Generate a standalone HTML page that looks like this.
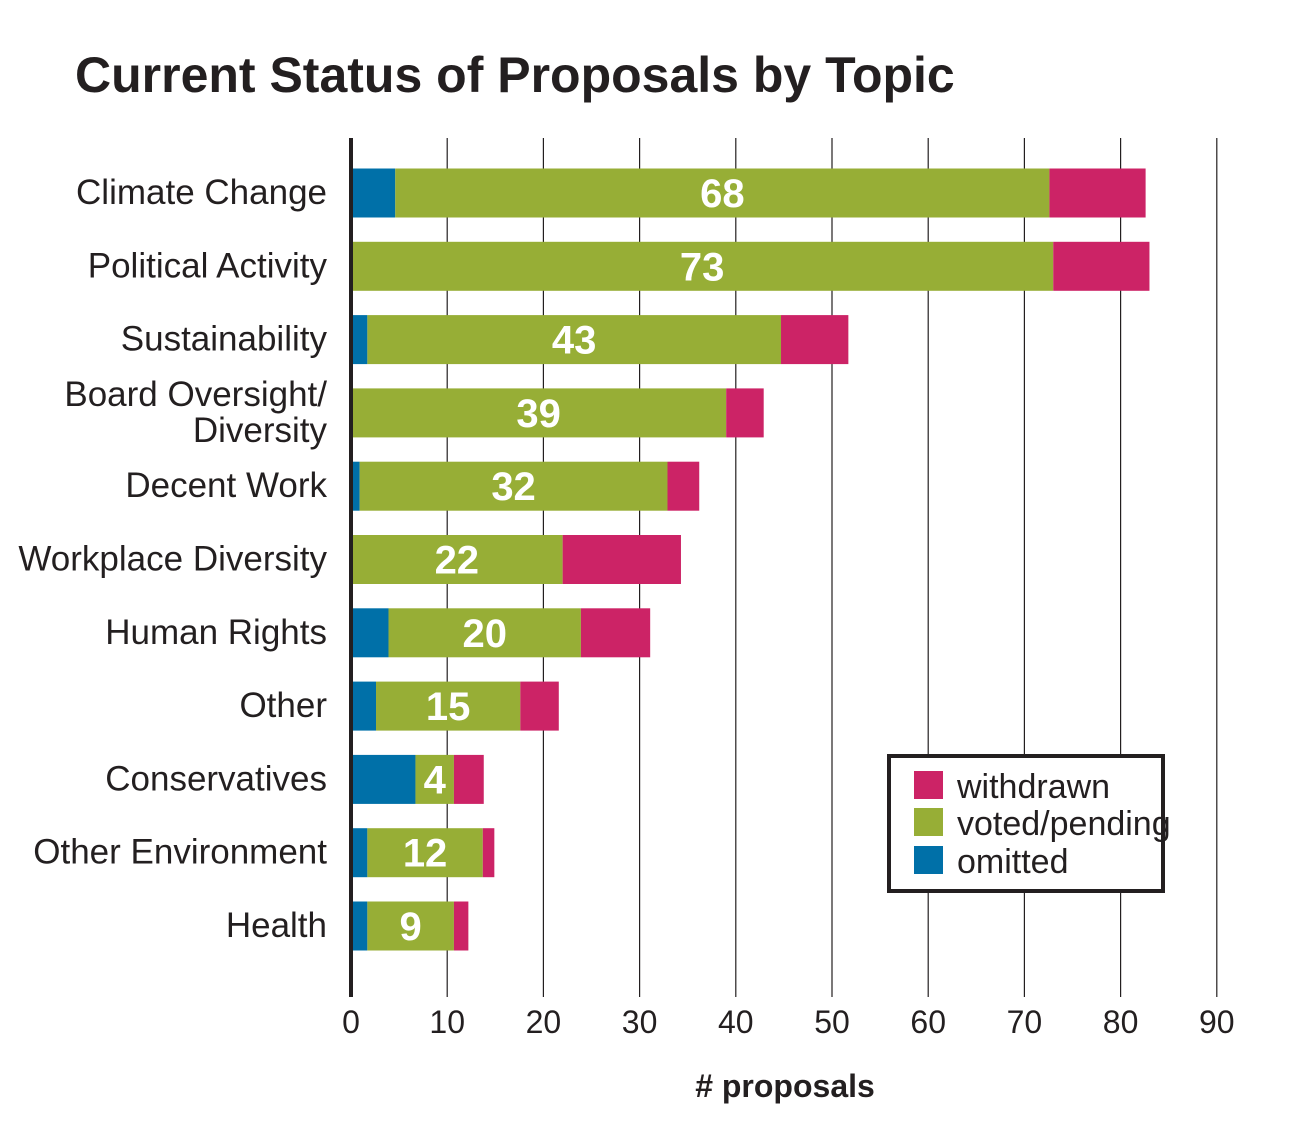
<!DOCTYPE html>
<html><head><meta charset="utf-8"><style>
body{margin:0;background:#fff;}
svg{display:block;font-family:"Liberation Sans Narrow","Liberation Sans",sans-serif;}
</style></head><body>
<svg id="chart" width="1310" height="1142" viewBox="0 0 1310 1142">
<text x="75" y="92" font-family="Liberation Sans, sans-serif" font-weight="bold" font-size="50" fill="#231f20">Current Status of Proposals by Topic</text>
<g id="grid"></g><g id="bars"></g><g id="labels"></g>
<line x1="351" y1="138" x2="351" y2="997" stroke="#231f20" stroke-width="4"/>
<text x="785" y="1097" text-anchor="middle" font-weight="bold" font-size="32" fill="#231f20">#  proposals</text>
<g>
<rect x="889" y="756" width="274" height="135" fill="#fff" stroke="#231f20" stroke-width="4"/>
<rect x="914" y="771" width="29" height="28" fill="#cc2366"/>
<text x="957" y="798" font-size="34" fill="#231f20">withdrawn</text>
<rect x="914" y="808" width="29" height="28" fill="#97ae36"/>
<text x="957" y="835" font-size="34" fill="#231f20">voted/pending</text>
<rect x="914" y="846" width="29" height="28" fill="#0070a8"/>
<text x="957" y="873" font-size="34" fill="#231f20">omitted</text>
</g>
</svg>
<script>
const categories=["Climate Change","Political Activity","Sustainability","Board Oversight/|Diversity","Decent Work","Workplace Diversity","Human Rights","Other","Conservatives","Other Environment","Health"];
const omitted=[4.6,0,1.7,0,0.9,0,3.9,2.6,6.7,1.7,1.7];
const voted=[68,73,43,39,32,22,20,15,4,12,9];
const withdrawn=[10,10,7,3.9,3.3,12.3,7.2,4,3.1,1.2,1.5];
const ticks=[0,10,20,30,40,50,60,70,80,90];
const NS="http://www.w3.org/2000/svg";
const x=v=>351+v*9.62;
const yc=i=>193+i*73.3;
const bh=49;
function mk(tag,attrs,parent){const e=document.createElementNS(NS,tag);for(const k in attrs)e.setAttribute(k,attrs[k]);parent.appendChild(e);return e;}
const grid=document.getElementById('grid'),bars=document.getElementById('bars'),labels=document.getElementById('labels');
ticks.forEach(t=>{
 if(t>0){const l=mk('line',{x1:x(t),x2:x(t),y1:138,y2:997,stroke:'#231f20','stroke-width':1.2},grid);
 
 }
 const tx=mk('text',{x:x(t),y:1033,'text-anchor':'middle','font-size':32,fill:'#231f20'},grid);
 tx.textContent=t;
 
 
});
categories.forEach((c,i)=>{
 const y0=yc(i)-bh/2;
 const segs=[[0,omitted[i],'#0070a8','omitted'],[omitted[i],omitted[i]+voted[i],'#97ae36','voted'],[omitted[i]+voted[i],omitted[i]+voted[i]+withdrawn[i],'#cc2366','withdrawn']];
 segs.forEach(s=>{if(s[1]>s[0]){const r=mk('rect',{x:x(s[0]),y:y0,width:x(s[1])-x(s[0]),height:bh,fill:s[2]},bars);
  
  }});
 const v=mk('text',{x:(x(omitted[i])+x(omitted[i]+voted[i]))/2,y:yc(i)+14,'text-anchor':'middle','font-size':40,'font-weight':'bold',fill:'#fff'},bars);
 v.textContent=voted[i];
 
 
 const parts=c.split('|');
 parts.forEach((p,j)=>{
  const off=parts.length>1?(j===0?-7:29):11;
  const t=mk('text',{x:327,y:yc(i)+off,'text-anchor':'end','font-size':35,fill:'#231f20'},labels);
  t.textContent=p;
  
  
 });
});
</script>
</body></html>
